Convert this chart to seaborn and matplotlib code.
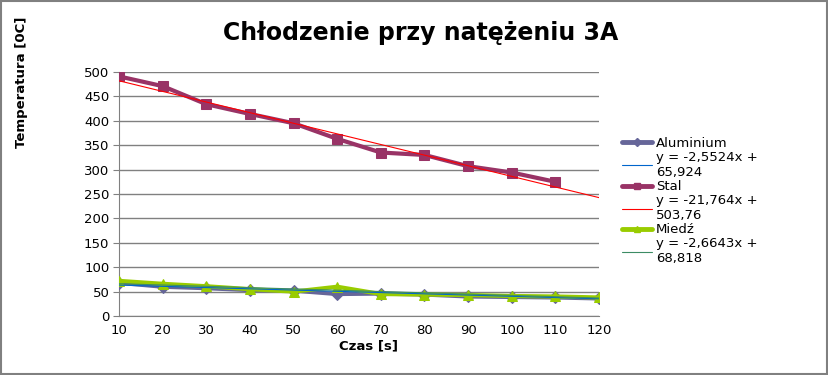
import numpy as np
import pandas as pd
import matplotlib
matplotlib.use("Agg")
import matplotlib.pyplot as plt
import seaborn as sns

czas = [10, 20, 30, 40, 50, 60, 70, 80, 90, 100, 110, 120]
aluminium = [68, 60, 57, 53, 52, 45, 46, 44, 40, 39, 38, 36]
stal = [491, 471, 434, 414, 395, 363, 335, 330, 307, 294, 275, np.nan]
miedz = [72, 66, 61, 55, 50, 60, 45, 44, 43, 41, 40, 38]

# trend lines from the chart (x = point index 1..12)
trend_al = (-2.5524, 65.924)
trend_st = (-21.764, 503.76)
trend_cu = (-2.6643, 68.818)

series = [
    ("Aluminium", aluminium, "#666699", "D", 6, trend_al, "#0066CC",
     "y = -2,5524x +\n65,924"),
    ("Stal", stal, "#993366", "s", 7.5, trend_st, "#FF0000",
     "y = -21,764x +\n503,76"),
    ("Miedź", miedz, "#99CC00", "^", 7.5, trend_cu, "#3C8C64",
     "y = -2,6643x +\n68,818"),
]

sns.set_style("white")
plt.rcParams["font.family"] = ["DejaVu Sans"]
plt.rcParams["text.color"] = "black"
plt.rcParams["xtick.color"] = "black"
plt.rcParams["ytick.color"] = "black"

fig = plt.figure(figsize=(8.29, 3.75), dpi=100)
ax = fig.add_axes([0.1436, 0.1573, 0.579, 0.6507])

idx = np.arange(1, len(czas) + 1)
handles, labels = [], []
for name, vals, col, mk, ms, (a, b), tcol, tlab in series:
    df = pd.DataFrame({"czas": czas, "temp": vals}).dropna()
    sns.lineplot(data=df, x="czas", y="temp", ax=ax, color=col, lw=3,
                 marker=mk, markersize=ms, markeredgecolor=col, zorder=3)
    ln_data = ax.lines[-1]
    tl, = ax.plot(czas, a * idx + b, color=tcol, lw=0.8, zorder=4)
    h, = ax.plot([], [], color=col, lw=3.5, marker=mk, markersize=4,
                 markeredgecolor=col)
    handles += [h, tl]
    labels += [name, tlab]

ax.set_xlim(10, 120)
ax.set_ylim(0, 500)
ax.set_xticks(czas)
ax.set_yticks(range(0, 501, 50))
ax.grid(axis="y", color="#808080", lw=1)
ax.set_axisbelow(True)
for s in ["top", "right"]:
    ax.spines[s].set_visible(False)
for s in ["left", "bottom"]:
    ax.spines[s].set_color("#808080")
ax.tick_params(axis="y", left=True, length=4, color="#808080", labelsize=9.5, pad=3)
ax.tick_params(axis="x", bottom=False, labelsize=9.5, pad=2)
ax.set_xlabel("")
ax.set_ylabel("")

fig.text(369 / 829, 1 - 346 / 375, "Czas [s]", ha="center", va="center",
         fontsize=9.5, fontweight="bold")
fig.text(22 / 829, 1 - 82 / 375, "Temperatura [0C]", ha="center", va="center",
         rotation=90, fontsize=9.5, fontweight="bold")
fig.text(421 / 829, 1 - 33 / 375, "Chłodzenie przy natężeniu 3A", ha="center",
         va="center", fontsize=17, fontweight="bold")

ax.legend(handles, labels, loc="upper left", bbox_to_anchor=(1.036, 0.755),
          frameon=False, fontsize=9.5, handlelength=2.3, labelspacing=0.08,
          handletextpad=0.3, borderaxespad=0)

fig.patches.append(plt.Rectangle((0.001, 0.002), 0.997, 0.995, transform=fig.transFigure,
                                 fill=False, edgecolor="#808080", lw=1.5))
fig.savefig("out.png", dpi=100)
